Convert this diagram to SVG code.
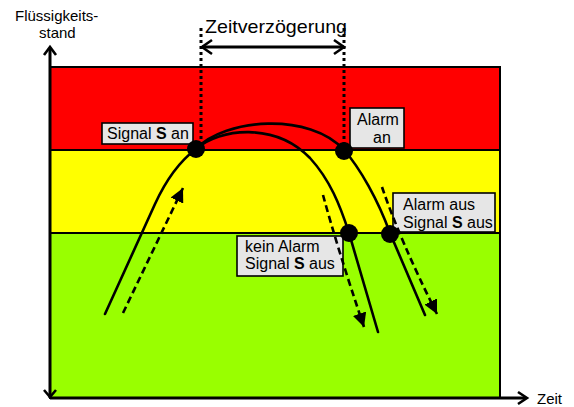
<svg xmlns="http://www.w3.org/2000/svg" width="574" height="407" viewBox="0 0 574 407">
  <style>
    .t { font-family: "Liberation Sans", Arial, sans-serif; fill: #000; }
    .box { fill: #E6E6E6; stroke: #000; stroke-width: 1.6; }
    .band { stroke: #000; stroke-width: 2; }
    .curve { fill: none; stroke: #000; stroke-width: 2.6; stroke-linecap: round; }
    .dash { fill: none; stroke: #000; stroke-width: 2.6; stroke-dasharray: 7 4; }
    .dot { fill: #000; }
    .axis { fill: none; stroke: #000; stroke-width: 3; }
    .open { fill: none; stroke: #000; stroke-width: 2.6; }
    .dotted { fill: none; stroke: #000; stroke-width: 3; stroke-dasharray: 3 3; }
  </style>
  <defs>
    <marker id="head" markerWidth="16" markerHeight="14" refX="14" refY="7" orient="auto" markerUnits="userSpaceOnUse">
      <path d="M0,0 L14,7 L0,14 Z" fill="#000"/>
    </marker>
  </defs>

  <!-- level bands -->
  <g id="bands">
    <rect x="50" y="67" width="450" height="83" fill="#FF0000" class="band"/>
    <rect x="50" y="150" width="450" height="83" fill="#FFFF00" class="band"/>
    <rect x="50" y="233" width="450" height="165" fill="#99FF00" class="band"/>
  </g>

  <!-- axes -->
  <g id="axes">
    <path class="axis" d="M50,398 L50,48"/>
    <path class="open" d="M44,55 L50,47 L56,55"/>
    <path class="open" d="M44,390 L50,397 L56,390"/>
    <path class="axis" d="M50,398 L526,398"/>
    <path class="open" d="M518,392 L527,398 L518,404"/>
    <text class="t" x="15" y="21" font-size="15">Flüssigkeits-</text>
    <text class="t" x="39" y="38" font-size="15">stand</text>
    <text class="t" x="537" y="404" font-size="15">Zeit</text>
  </g>

  <!-- delay indicator -->
  <g id="delay">
    <path class="dotted" d="M201,28 L201,148"/>
    <path class="dotted" d="M344,28 L344,148"/>
    <path class="axis" d="M202,47 L344,47"/>
    <path class="open" d="M212,40 L202,47 L212,54"/>
    <path class="open" d="M334,40 L344,47 L334,54"/>
    <text class="t" x="205" y="33" font-size="19" textLength="142" lengthAdjust="spacingAndGlyphs">Zeitverzögerung</text>
  </g>

  <!-- level curves -->
  <g id="connectors">
    <path class="curve" d="M105,314 L155,204 Q172,167 196,149"/>
    <path class="curve" d="M196,149 C225,118 310,112 344,150 C360,168 378,200 390,233 L425,315"/>
    <path class="curve" d="M196,149 C220,128 275,122 310,158 C330,180 340,205 349,233 L378,332"/>
  </g>

  <!-- labels -->
  <g id="label-signal-an">
    <rect class="box" x="102" y="123" width="91" height="21"/>
    <text class="t" x="107" y="139" font-size="16">Signal <tspan font-weight="bold">S</tspan> an</text>
  </g>
  <g id="label-alarm-an">
    <rect class="box" x="350" y="108" width="54" height="40"/>
    <text class="t" x="357" y="125" font-size="16">Alarm</text>
    <text class="t" x="373" y="143" font-size="16">an</text>
  </g>
  <g id="label-alarm-aus">
    <rect class="box" x="393" y="193" width="102" height="39"/>
    <text class="t" x="403" y="210" font-size="16">Alarm aus</text>
    <text class="t" x="403" y="228" font-size="16">Signal <tspan font-weight="bold">S</tspan> aus</text>
  </g>
  <g id="label-kein-alarm">
    <rect class="box" x="237" y="236" width="106" height="40"/>
    <text class="t" x="245" y="252" font-size="16">kein Alarm</text>
    <text class="t" x="245" y="269" font-size="16">Signal <tspan font-weight="bold">S</tspan> aus</text>
  </g>

  <!-- direction arrows -->
  <g id="direction-arrows">
    <path class="dash" d="M123,313 L183,188" marker-end="url(#head)"/>
    <path class="dash" d="M323,195 Q338,250 364,327" marker-end="url(#head)"/>
    <path class="dash" d="M382,187 Q400,240 437,314" marker-end="url(#head)"/>
  </g>

  <!-- switching points -->
  <g id="points">
    <circle class="dot" cx="196" cy="149" r="9"/>
    <circle class="dot" cx="344" cy="151" r="9"/>
    <circle class="dot" cx="349" cy="233" r="9"/>
    <circle class="dot" cx="390" cy="234" r="9"/>
  </g>
</svg>
